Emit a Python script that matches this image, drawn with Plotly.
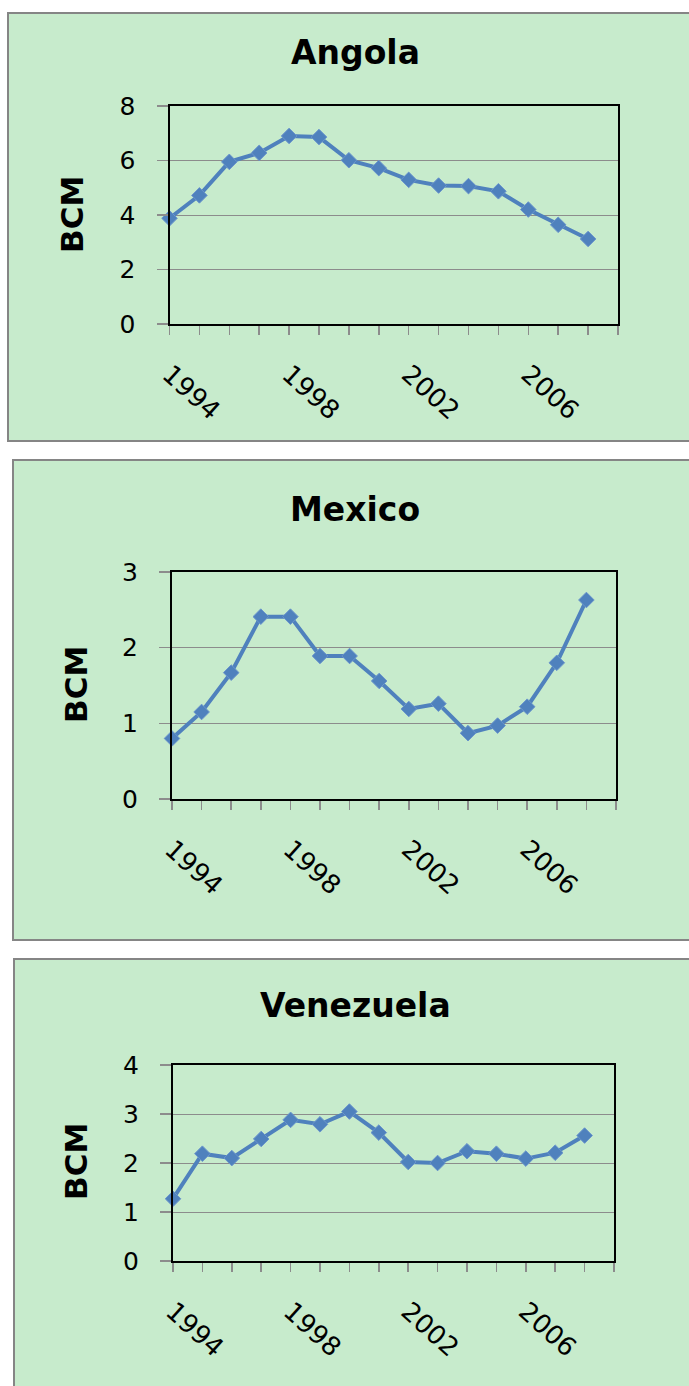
import plotly.graph_objects as go

# ---- data ----
years = list(range(1994, 2009))
angola = [3.88, 4.72, 5.95, 6.28, 6.90, 6.86, 6.01, 5.72, 5.29, 5.08, 5.06, 4.87, 4.20, 3.64, 3.12]
mexico = [0.80, 1.15, 1.67, 2.41, 2.41, 1.89, 1.89, 1.56, 1.19, 1.26, 0.87, 0.97, 1.22, 1.80, 2.63]
venezuela = [1.27, 2.19, 2.10, 2.49, 2.88, 2.79, 3.05, 2.62, 2.02, 2.00, 2.24, 2.19, 2.09, 2.21, 2.56]
series = [angola, mexico, venezuela]
titles = ["Angola", "Mexico", "Venezuela"]
y_max = [8, 3, 4]
y_dtick = [2, 1, 1]
tick_years = list(range(1994, 2010))
label_years = [1994, 1998, 2002, 2006]
y_title = "BCM"

# ---- layout geometry (pixels) ----
W, H = 689, 1386
BG = "#c7ebcc"
BLUE = "#4f81bd"
FONT = "DejaVu Sans"

# panel boxes: (left, top, right, bottom)
panels = [(8, 13, 700, 441), (13, 460, 700, 940), (14, 959, 700, 1400)]
# plot areas: (left, top, right, bottom)
plots = [(169.5, 106, 618, 324), (172, 572, 616, 799), (173, 1065, 614, 1261)]
title_y = [53, 509, 1005]
bcm_xy = [(72, 215), (76, 685), (76, 1162)]


def px(x):
    return x / W


def py(y):
    return 1 - y / H


fig = go.Figure()
layout = dict(
    width=W, height=H, autosize=False,
    margin=dict(l=0, r=0, t=0, b=0, pad=0, autoexpand=False),
    paper_bgcolor="white",
    plot_bgcolor=BG,
    showlegend=False,
    shapes=[], annotations=[],
)

for i in range(3):
    n = "" if i == 0 else str(i + 1)
    fig.add_trace(go.Scatter(
        x=years, y=series[i], mode="lines+markers",
        xaxis="x" + n, yaxis="y" + n,
        line=dict(color=BLUE, width=4),
        marker=dict(symbol="diamond", size=12, color=BLUE,
                    line=dict(color="#6a95cc", width=1)),
        cliponaxis=False, hoverinfo="skip",
    ))
    l, t, r, b = plots[i]
    ticktext = [str(yv) if yv in label_years else "" for yv in tick_years]
    layout["xaxis" + n] = dict(
        domain=[px(l), px(r)], anchor="y" + n, automargin=False,
        range=[1994, 2009], tickmode="array",
        tickvals=tick_years, ticktext=ticktext,
        tickangle=42, ticks="outside", ticklen=9, tickcolor="#8c8c8c",
        tickwidth=1.5,
        showgrid=False, zeroline=False,
        showline=True, linecolor="black", linewidth=2, mirror=True,
        tickfont=dict(family=FONT, size=26, color="black"),
        ticklabelstandoff=14,
    )
    layout["yaxis" + n] = dict(
        domain=[py(b), py(t)], anchor="x" + n, automargin=False,
        range=[0, y_max[i]], dtick=y_dtick[i], tick0=0,
        ticks="outside", ticklen=11, tickcolor="#8c8c8c", tickwidth=1.5,
        showgrid=True, gridcolor="#8c8c8c", gridwidth=1,
        zeroline=False,
        showline=True, linecolor="black", linewidth=2, mirror=True,
        tickfont=dict(family=FONT, size=25, color="black"),
        ticklabelstandoff=16,
    )
    pl, pt, pr, pb = panels[i]
    layout["shapes"].append(dict(
        type="rect", xref="paper", yref="paper",
        x0=px(pl), x1=px(pr), y0=py(pb), y1=py(pt),
        fillcolor=BG, line=dict(color="#858585", width=2), layer="below",
    ))
    layout["annotations"].append(dict(
        text=titles[i], xref="paper", yref="paper",
        x=px(355), y=py(title_y[i]), xanchor="center", yanchor="middle",
        showarrow=False, font=dict(family=FONT, size=33, color="black", weight="bold"),
    ))
    bx, by = bcm_xy[i]
    layout["annotations"].append(dict(
        text=y_title, xref="paper", yref="paper",
        x=px(bx), y=py(by), xanchor="center", yanchor="middle",
        textangle=-90, showarrow=False,
        font=dict(family=FONT, size=31, color="black", weight="bold"),
    ))

fig.update_layout(**layout)
fig.write_html(
    "out.html",
    config={"displayModeBar": False, "staticPlot": True},
    post_script=(
        "document.documentElement.style.margin='0';"
        "document.documentElement.style.padding='0';"
        "document.documentElement.style.overflow='hidden';"
        "document.body.style.margin='0';"
        "document.body.style.padding='0';"
        "document.body.style.overflow='hidden';"
    ),
)
